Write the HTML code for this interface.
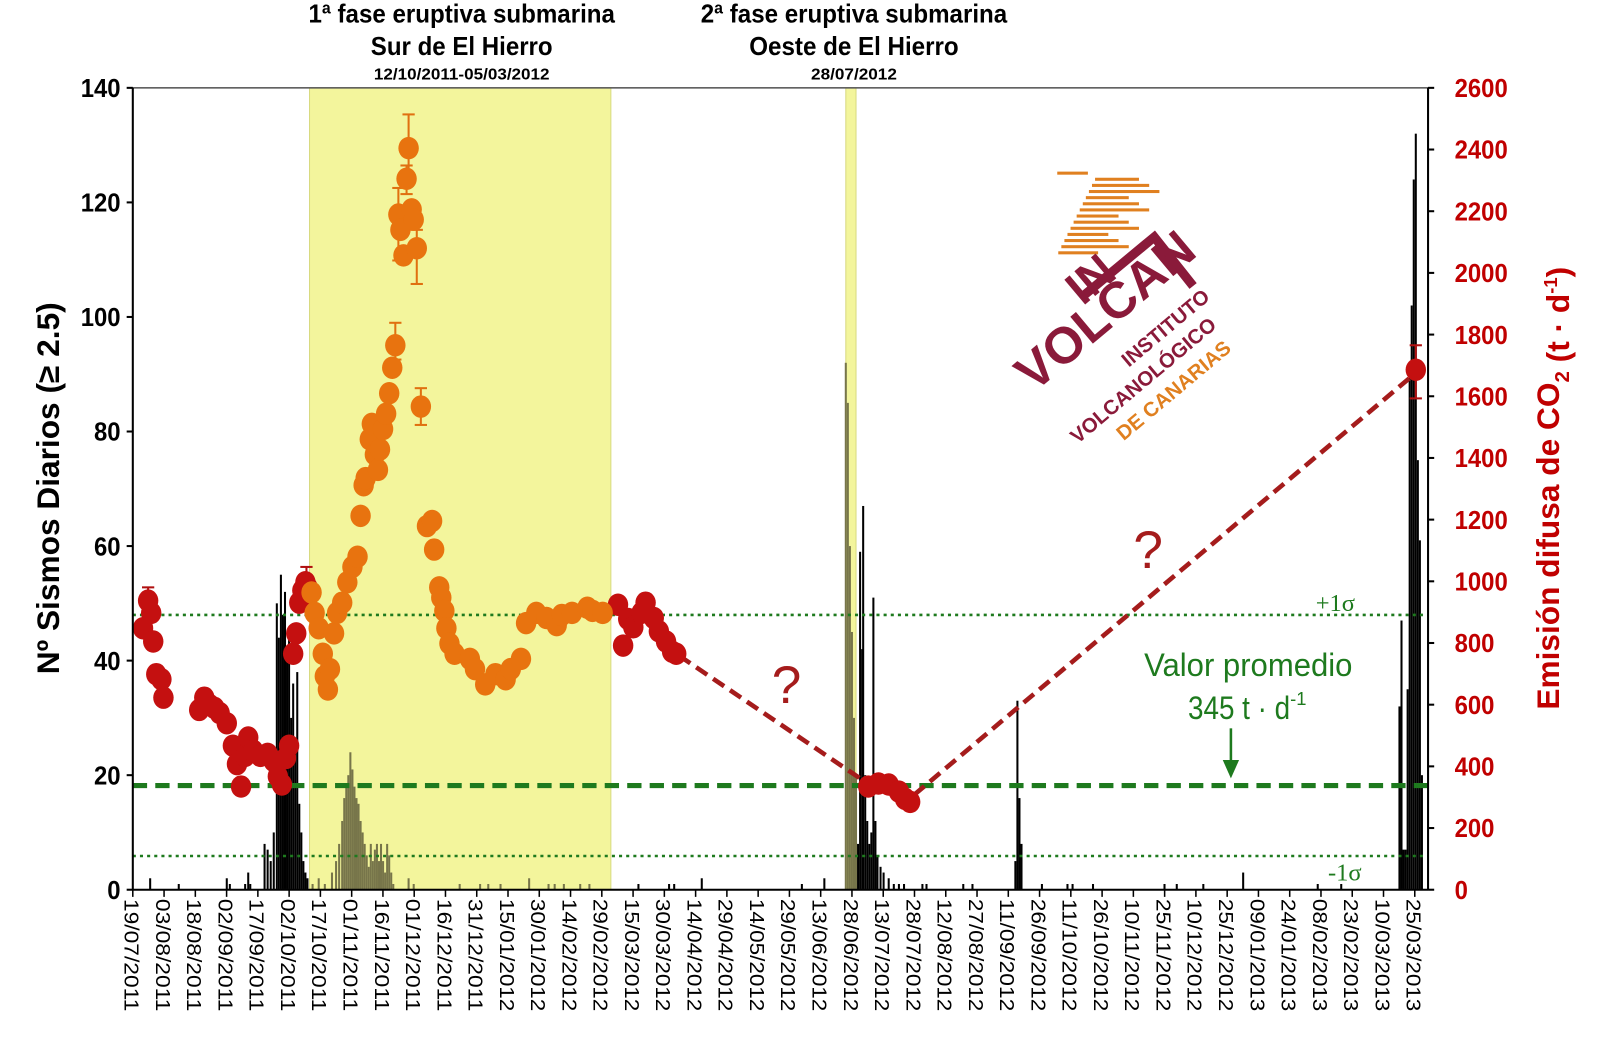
<!DOCTYPE html>
<html><head><meta charset="utf-8"><style>
html,body{margin:0;padding:0;background:#fff}
svg{display:block}
</style></head><body>
<svg id="s" width="1600" height="1051" xmlns="http://www.w3.org/2000/svg" font-family="Liberation Sans, sans-serif">
<rect width="1600" height="1051" fill="#fff"/>
<g transform="scale(1.0215)">
<g id="bg"></g>
<g id="bars"></g>
<g id="lines"></g>
<g id="dots"></g>
<g id="axes"></g>
</g>
</svg>
<script>
const NS="http://www.w3.org/2000/svg";
function el(p,tag,a,txt){const e=document.createElementNS(NS,tag);for(const k in a)e.setAttribute(k,a[k]);if(txt!==undefined)e.textContent=txt;document.getElementById(p).appendChild(e);return e;}
const X0=130,X1=1398,Y0=871,YT=86;
const yL=v=>Y0-v*(Y0-YT)/140;
el('bg','rect',{x:303,y:YT,width:295,height:Y0-YT,fill:'#f3f59c',stroke:'#d8da80','stroke-width':1});
el('bg','rect',{x:828,y:YT,width:10,height:Y0-YT,fill:'#f3f59c',stroke:'#d8da80','stroke-width':1});
const bars=[[147,2],[175,1],[222,2],[225,1],[240,1],[243,3],[245,1],[259,8],[262,7],[265,5],[268,10],[271,50],[273,44],[275,55],[277,48],[279,52],[281,40],[283,45],[285,30],[287,36],[289,25],[291,38],[293,15],[295,10],[297,5],[299,3],[301,2],
[306,1],[312,2],[318,1],[325,3],[329,5],[332,8],[335,12],[337,16],[339,18],[341,20],[343,24],[345,21],[347,18],[349,16],[351,15],[353,12],[355,10],[357,8],[359,6],[361,4],[363,8],[365,5],[367,7],[369,8],[371,5],[373,8],[375,5],[377,3],[379,8],[381,6],[383,3],[385,1],[400,2],[405,1],[450,1],[470,1],[478,1],[490,1],[518,2],[537,1],[543,1],[552,1],[568,1],[577,1],
[625,1],[655,1],[660,1],[687,2],[785,1],[807,2],[828,92],[830,85],[832,60],[834,45],[836,30],[838,20],[840,8],[842,59],[844,42],[845,67],[847,20],[849,12],[851,8],[853,10],[855,51],[857,12],[859,6],[862,4],[865,3],[870,2],[875,1],[880,1],[885,1],[903,1],[907,1],[943,1],[952,1],[994,5],[996,33],[998,16],[1000,8],[1020,1],[1045,1],[1050,1],[1070,1],[1140,1],[1152,1],[1178,1],[1217,3],[1290,1],[1313,1],[1370,32],[1372,47],[1374,7],[1376,7],[1378,35],[1380,90],[1382,102],[1384,124],[1386,132],[1388,75],[1390,61],[1392,20]];
bars.forEach(([x,h])=>{const inY=(x>303&&x<598)||(x>=828&&x<=838);el('bars','rect',{x:x-1,y:yL(h),width:2,height:Y0-yL(h),fill:inY?'#77754a':'#000'});});
el('lines','line',{x1:X0,x2:X1,y1:602,y2:602,stroke:'#1e7a1e','stroke-width':2.5,'stroke-dasharray':'3 4'});
el('lines','line',{x1:X0,x2:X1,y1:838,y2:838,stroke:'#1e7a1e','stroke-width':2.5,'stroke-dasharray':'3 4'});
el('lines','line',{x1:X0,x2:X1,y1:769,y2:769,stroke:'#1e7a1e','stroke-width':5,'stroke-dasharray':'14 8'});
el('lines','text',{x:1288,y:598,fill:'#1e7a1e','font-family':'Liberation Serif, serif','font-size':24},'+1σ');
el('lines','text',{x:1300,y:862,fill:'#1e7a1e','font-family':'Liberation Serif, serif','font-size':24},'-1σ');
el('lines','text',{x:1120,y:662,fill:'#1e7a1e','font-size':32,textLength:204,lengthAdjust:'spacingAndGlyphs'},'Valor promedio');
const t2=el('lines','text',{x:1163,y:704,fill:'#1e7a1e','font-size':32},'');
const a1=document.createElementNS(NS,'tspan');a1.setAttribute('textLength','100');a1.setAttribute('lengthAdjust','spacingAndGlyphs');a1.textContent='345 t · d';t2.appendChild(a1);
const ts=document.createElementNS(NS,'tspan');ts.setAttribute('dy','-14');ts.setAttribute('font-size','18');ts.textContent='-1';t2.appendChild(ts);
el('lines','line',{x1:1205,y1:713,x2:1205,y2:748,stroke:'#1e7a1e','stroke-width':2.5});
el('lines','polygon',{points:'1197,744 1213,744 1205,762',fill:'#1e7a1e'});
el('lines','line',{x1:665,y1:642,x2:842,y2:762,stroke:'#a51c1c','stroke-width':4.5,'stroke-dasharray':'13 7'});
el('lines','line',{x1:895,y1:778,x2:1386,y2:365,stroke:'#a51c1c','stroke-width':4.5,'stroke-dasharray':'13 7'});
el('lines','text',{x:770,y:688,fill:'#a51c1c','font-size':52,'text-anchor':'middle'},'?');
el('lines','text',{x:1124,y:556,fill:'#a51c1c','font-size':52,'text-anchor':'middle'},'?');
const red=[[140,615],[145,588],[148,600],[150,628],[153,660],[158,665],[160,683],[195,695],[200,683],[205,690],[210,693],[215,698],[222,708],[228,730],[232,748],[236,770],[240,740],[243,722],[248,735],[255,740],[262,738],[268,745],[272,760],[276,768],[280,742],[283,730],[287,640],[290,620],[293,590],[296,578],[299,570],[301,575],
[605,592],[610,632],[615,606],[620,614],[628,600],[632,590],[640,605],[645,618],[652,628],[658,638],[662,640],[850,770],[860,767],[870,768],[880,775],[886,782],[891,785],[1386,362]];
const org=[[305,580],[308,600],[312,615],[316,640],[318,662],[321,675],[323,655],[327,620],[330,600],[335,590],[340,570],[345,555],[350,545],[353,505],[356,475],[358,468],[362,430],[364,415],[367,445],[370,460],[372,440],[375,420],[378,405],[381,385],[384,360],[387,338],[390,210],[392,225],[395,250],[398,175],[400,145],[403,205],[405,215],[408,243],[412,398],[418,515],[423,510],[425,538],[430,575],[432,585],[435,598],[437,615],[440,630],[445,640],[460,645],[465,655],[475,670],[485,660],[495,665],[500,655],[510,645],[515,610],[525,600],[535,605],[545,612],[550,602],[560,600],[575,595],[580,598],[590,600]];
const eb=[[400,145,112,178],[398,175,162,190],[390,210,184,255],[408,243,225,278],[412,398,380,416],[387,338,316,352],[1386,362,338,390],[145,588,575,600],[300,575,555,590]];
eb.forEach(([x,y,a,b])=>{const c=(x>303&&x<598)?'#e07010':'#b01010';el('dots','line',{x1:x,x2:x,y1:a,y2:b,stroke:c,'stroke-width':2});el('dots','line',{x1:x-6,x2:x+6,y1:a,y2:a,stroke:c,'stroke-width':2});el('dots','line',{x1:x-6,x2:x+6,y1:b,y2:b,stroke:c,'stroke-width':2});});
red.forEach(([x,y])=>el('dots','ellipse',{cx:x,cy:y,rx:10,ry:11,fill:'#c41010'}));
org.forEach(([x,y])=>el('dots','ellipse',{cx:x,cy:y,rx:10,ry:11,fill:'#e8730f'}));
el('axes','rect',{x:X0,y:YT,width:X1-X0,height:Y0-YT,fill:'none',stroke:'#555','stroke-width':1.5});
el('axes','line',{x1:X0,x2:X0,y1:YT,y2:Y0,stroke:'#000','stroke-width':2});
el('axes','line',{x1:X1,x2:X1,y1:YT,y2:Y0,stroke:'#000','stroke-width':2});
el('axes','line',{x1:X0,x2:X1,y1:Y0,y2:Y0,stroke:'#000','stroke-width':2});
for(let v=0;v<=140;v+=20){const y=yL(v);el('axes','line',{x1:X0-6,x2:X0,y1:y,y2:y,stroke:'#000','stroke-width':2});
 const s=String(v);el('axes','text',{x:X0-12,y:y+9,'text-anchor':'end','font-weight':'bold','font-size':25,textLength:s.length*13,lengthAdjust:'spacingAndGlyphs'},s);}
for(let v=0;v<=2600;v+=200){const y=Y0-v*(Y0-YT)/2600;el('axes','line',{x1:X1,x2:X1+6,y1:y,y2:y,stroke:'#000','stroke-width':2});
 const s=String(v);el('axes','text',{x:X1+26,y:y+9,'font-weight':'bold','font-size':25,fill:'#c00000',textLength:s.length*13,lengthAdjust:'spacingAndGlyphs'},s);}
const labs=['19/07/2011','03/08/2011','18/08/2011','02/09/2011','17/09/2011','02/10/2011','17/10/2011','01/11/2011','16/11/2011','01/12/2011','16/12/2011','31/12/2011','15/01/2012','30/01/2012','14/02/2012','29/02/2012','15/03/2012','30/03/2012','14/04/2012','29/04/2012','14/05/2012','29/05/2012','13/06/2012','28/06/2012','13/07/2012','28/07/2012','12/08/2012','27/08/2012','11/09/2012','26/09/2012','11/10/2012','26/10/2012','10/11/2012','25/11/2012','10/12/2012','25/12/2012','09/01/2013','24/01/2013','08/02/2013','23/02/2013','10/03/2013','25/03/2013'];
const sp=(1385-130)/41;
labs.forEach((l,i)=>{const x=130+i*sp;el('axes','line',{x1:x,x2:x,y1:Y0,y2:Y0+7,stroke:'#000','stroke-width':1.5});
 el('axes','text',{x:0,y:0,transform:`translate(${x-8},880) rotate(90)`,'font-size':20,textLength:110,lengthAdjust:'spacingAndGlyphs'},l);});
el('axes','text',{transform:'translate(58,478) rotate(-90)','text-anchor':'middle','font-weight':'bold','font-size':31},'Nº Sismos Diarios (≥ 2.5)');
const rt=el('axes','text',{transform:'translate(1526,478) rotate(-90)','text-anchor':'middle','font-weight':'bold','font-size':31,fill:'#c00000'},'Emisión difusa de CO');
[['2','10','20'],[' (t · d',null,'31'],['-1','-12','18'],[')','12','31']].forEach(([t,dy,fs])=>{const s=document.createElementNS(NS,'tspan');if(dy)s.setAttribute('dy',dy);s.setAttribute('font-size',fs);s.textContent=t;rt.appendChild(s);});
[[452,'1ª fase eruptiva submarina','Sur de El Hierro','12/10/2011-05/03/2012',300,178,172],[836,'2ª fase eruptiva submarina','Oeste de El Hierro','28/07/2012',300,205,84]].forEach(([x,a,b,c,w1,w2,w3])=>{
 el('axes','text',{x:x,y:22,'text-anchor':'middle','font-weight':'bold','font-size':25,textLength:w1,lengthAdjust:'spacingAndGlyphs'},a);
 el('axes','text',{x:x,y:54,'text-anchor':'middle','font-weight':'bold','font-size':25,textLength:w2,lengthAdjust:'spacingAndGlyphs'},b);
 el('axes','text',{x:x,y:78,'text-anchor':'middle','font-weight':'bold','font-size':15,textLength:w3,lengthAdjust:'spacingAndGlyphs'},c);});
for(let i=0;i<14;i++){const y=168+i*6;const x=1035+((i*37)%40);el('axes','rect',{x:x,y:y,width:30+((i*13)%40),height:3,fill:'#e08020'});}
el('axes','polyline',{points:'1060,290 1130,232 1168,280',fill:'none',stroke:'#8a1a3a','stroke-width':9});
el('axes','text',{transform:'translate(1012,385) rotate(-40)','font-size':50,'font-weight':'bold',fill:'#8a1a3a'},'VOLCAN');
el('axes','text',{transform:'translate(1060,300) rotate(-40)','font-size':46,'font-weight':'bold',fill:'#8a1a3a'},'IN');
el('axes','text',{transform:'translate(1105,360) rotate(-40)','font-size':20,'font-weight':'bold',fill:'#8a1a3a'},'INSTITUTO');
el('axes','text',{transform:'translate(1055,435) rotate(-40)','font-size':20,'font-weight':'bold',fill:'#8a1a3a'},'VOLCANOLÓGICO');
el('axes','text',{transform:'translate(1100,432) rotate(-40)','font-size':20,'font-weight':'bold',fill:'#e08020'},'DE CANARIAS');
</script>
</body></html>
